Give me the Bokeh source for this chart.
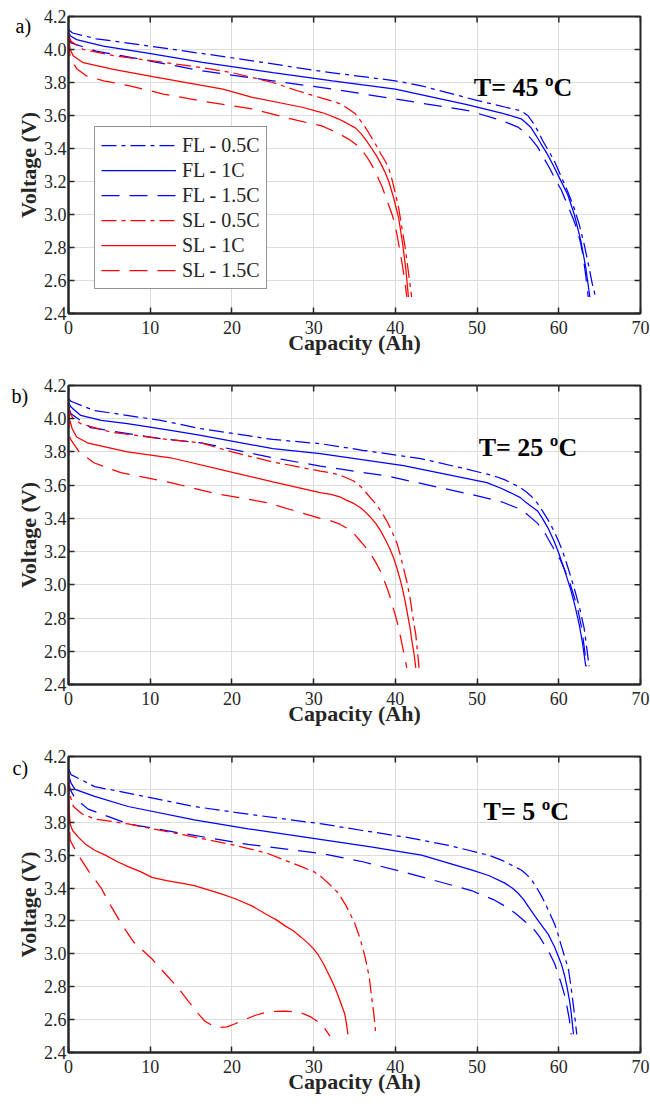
import math
from bokeh.plotting import figure
from bokeh.layouts import column
from bokeh.models import Legend, LegendItem, Label, Title, FixedTicker, NumeralTickFormatter, Range1d
from bokeh.embed import file_html
from bokeh.resources import INLINE

# ---------------- data ----------------
x_ticks = [0, 10, 20, 30, 40, 50, 60, 70]
y_ticks = [2.4, 2.6, 2.8, 3.0, 3.2, 3.4, 3.6, 3.8, 4.0, 4.2]
series_names = ["FL - 0.5C", "FL - 1C", "FL - 1.5C", "SL - 0.5C", "SL - 1C", "SL - 1.5C"]

# Panel a) T = 45 C
a_fl05_x = [0, 0.5, 3.4, 10, 20, 31, 40, 43.2, 49.7, 53.5, 55.4, 56.2, 56.8, 57.4, 58.0, 58.7, 59.4, 60.2, 61.0, 61.8, 62.5, 63.1, 63.7, 64.1, 64.5]
a_fl05_v = [4.12, 4.10, 4.065, 4.02, 3.95, 3.867, 3.81, 3.78, 3.695, 3.65, 3.628, 3.60, 3.56, 3.51, 3.45, 3.39, 3.33, 3.24, 3.15, 3.05, 2.94, 2.82, 2.68, 2.58, 2.50]
a_fl1_x = [0, 0.3, 1, 4.26, 9.5, 16.4, 25, 32.3, 40, 48.9, 53, 55.4, 56.0, 56.6, 57.2, 57.8, 58.6, 59.3, 60.2, 61.1, 61.9, 62.7, 63.3, 63.8]
a_fl1_v = [4.10, 4.08, 4.06, 4.02, 3.98, 3.922, 3.86, 3.81, 3.76, 3.665, 3.615, 3.58, 3.555, 3.527, 3.48, 3.43, 3.366, 3.30, 3.21, 3.12, 3.00, 2.84, 2.68, 2.50]
a_fl15_x = [0, 0.3, 3.4, 10, 16.4, 25, 32.3, 40, 48.9, 53, 55.0, 55.8, 56.6, 57.4, 58.2, 59.0, 59.7, 60.3, 60.8, 61.3, 61.8, 62.3, 62.7, 63.0, 63.3, 63.6]
a_fl15_v = [4.07, 4.04, 3.99, 3.93, 3.87, 3.81, 3.76, 3.70, 3.63, 3.57, 3.53, 3.50, 3.46, 3.41, 3.34, 3.27, 3.20, 3.15, 3.09, 3.03, 2.97, 2.90, 2.82, 2.74, 2.63, 2.50]
a_sl05_x = [0, 0.3, 1.8, 5.5, 16.4, 20, 25, 28, 31, 32.5, 33.5, 34.4, 35.1, 35.8, 36.5, 37.1, 37.7, 38.2, 38.8, 39.2, 39.6, 40.0, 40.4, 40.8, 41.2, 41.6, 42.0]
a_sl05_v = [4.09, 4.05, 4.00, 3.963, 3.89, 3.86, 3.80, 3.75, 3.705, 3.685, 3.665, 3.635, 3.61, 3.565, 3.515, 3.465, 3.415, 3.37, 3.32, 3.28, 3.21, 3.13, 3.04, 2.92, 2.80, 2.65, 2.50]
a_sl1_x = [0, 0.2, 0.6, 1.8, 5.5, 10.3, 18.9, 22.5, 28.6, 31, 32, 33, 34, 35.1, 35.8, 36.5, 37.1, 37.7, 38.2, 38.7, 39.2, 39.8, 40.4, 40.9, 41.3, 41.6]
a_sl1_v = [4.085, 4.0, 3.96, 3.92, 3.88, 3.835, 3.76, 3.71, 3.65, 3.618, 3.60, 3.58, 3.555, 3.525, 3.49, 3.445, 3.40, 3.355, 3.31, 3.26, 3.20, 3.10, 2.98, 2.82, 2.66, 2.50]
a_sl15_x = [0, 0.2, 1.0, 2.2, 4.3, 7.5, 11.6, 16, 22.5, 28, 31, 32, 33.1, 34.5, 35.3, 35.9, 36.5, 37, 37.5, 37.9, 38.4, 38.8, 39.2, 39.6, 40.0, 40.3, 40.6, 40.9, 41.2, 41.4]
a_sl15_v = [4.07, 3.945, 3.884, 3.84, 3.81, 3.78, 3.73, 3.69, 3.64, 3.57, 3.537, 3.515, 3.49, 3.45, 3.42, 3.39, 3.35, 3.31, 3.265, 3.22, 3.165, 3.11, 3.055, 3.00, 2.93, 2.85, 2.77, 2.68, 2.58, 2.50]

# Panel b) T = 25 C
b_fl05_x = [0, 0.3, 3.1, 11.3, 16.2, 25, 30.8, 36, 43.1, 48, 52, 53.5, 55.3, 56.0, 56.7, 57.4, 58.0, 58.7, 59.4, 60.0, 60.7, 61.4, 62.0, 62.6, 63.1, 63.4, 63.7]
b_fl05_v = [4.12, 4.105, 4.05, 3.99, 3.94, 3.875, 3.85, 3.81, 3.76, 3.705, 3.657, 3.63, 3.585, 3.56, 3.53, 3.49, 3.445, 3.39, 3.325, 3.26, 3.17, 3.06, 2.96, 2.85, 2.74, 2.63, 2.51]
b_fl1_x = [0, 0.3, 1.5, 4, 7.2, 12.5, 16.2, 25, 30.8, 41.0, 51.2, 53, 54.3, 55.3, 56.0, 56.7, 57.4, 58.0, 58.7, 59.4, 60.0, 60.7, 61.4, 62.0, 62.5, 62.9, 63.3]
b_fl1_v = [4.095, 4.07, 4.02, 3.99, 3.97, 3.93, 3.90, 3.82, 3.79, 3.717, 3.615, 3.58, 3.55, 3.525, 3.495, 3.47, 3.445, 3.40, 3.34, 3.265, 3.19, 3.09, 2.98, 2.87, 2.76, 2.65, 2.51]
b_fl15_x = [0, 0.3, 2.7, 11.3, 16.2, 25, 30.8, 39.0, 49.2, 53, 55.3, 56.0, 56.7, 57.4, 58.2, 59.0, 59.7, 60.2, 60.8, 61.3, 61.8, 62.3, 62.8, 63.1, 63.4]
b_fl15_v = [4.07, 4.03, 3.946, 3.88, 3.855, 3.765, 3.715, 3.655, 3.545, 3.50, 3.455, 3.43, 3.40, 3.37, 3.32, 3.25, 3.19, 3.15, 3.08, 3.02, 2.94, 2.86, 2.74, 2.63, 2.51]
b_sl05_x = [0, 0.2, 0.6, 1.5, 5.1, 11.3, 16.2, 20, 25, 30.8, 32.1, 33.5, 34.9, 35.8, 36.5, 37.2, 37.8, 38.4, 39.0, 39.5, 40.2, 40.6, 41.0, 41.4, 41.8, 42.1, 42.5, 42.7, 42.9]
b_sl05_v = [4.08, 4.03, 4.00, 3.97, 3.92, 3.88, 3.855, 3.80, 3.74, 3.685, 3.675, 3.655, 3.625, 3.59, 3.55, 3.51, 3.475, 3.43, 3.38, 3.33, 3.25, 3.18, 3.10, 3.02, 2.92, 2.82, 2.70, 2.60, 2.50]
b_sl1_x = [0, 0.1, 0.45, 1.0, 2.3, 7.2, 12.5, 20.2, 25, 30.8, 32.1, 33.2, 34, 34.9, 35.7, 36.4, 37, 37.6, 38.2, 38.8, 39.3, 39.8, 40.2, 40.6, 40.9, 41.2, 41.5, 41.8, 42.0, 42.3, 42.5]
b_sl1_v = [4.08, 4.0, 3.94, 3.89, 3.855, 3.80, 3.765, 3.675, 3.62, 3.555, 3.545, 3.53, 3.51, 3.49, 3.465, 3.435, 3.405, 3.37, 3.325, 3.27, 3.22, 3.16, 3.10, 3.03, 2.97, 2.90, 2.82, 2.74, 2.67, 2.58, 2.50]
b_sl15_x = [0, 0.1, 0.2, 1.3, 3.1, 6.4, 12.5, 18, 24.3, 30.8, 32.1, 33.2, 34.1, 34.9, 35.6, 36.3, 37.0, 37.6, 38.2, 38.6, 39.0, 39.4, 39.8, 40.1, 40.4, 40.7, 41.0, 41.2, 41.4]
b_sl15_v = [4.06, 3.95, 3.88, 3.80, 3.735, 3.675, 3.615, 3.55, 3.495, 3.40, 3.385, 3.365, 3.34, 3.31, 3.27, 3.23, 3.185, 3.135, 3.08, 3.03, 2.98, 2.92, 2.85, 2.80, 2.74, 2.67, 2.60, 2.55, 2.50]

# Panel c) T = 5 C
c_fl05_x = [0, 0.3, 3.2, 9.3, 15.4, 20.4, 31.0, 36, 41.2, 46.5, 51.4, 53, 54, 55.4, 56.0, 56.5, 57.0, 57.5, 58.0, 58.5, 59.0, 59.5, 59.9, 60.3, 60.8, 61.2, 61.5, 61.7, 62.0, 62.2]
c_fl05_v = [4.125, 4.09, 4.017, 3.957, 3.896, 3.86, 3.79, 3.75, 3.71, 3.66, 3.60, 3.57, 3.545, 3.51, 3.485, 3.46, 3.425, 3.385, 3.34, 3.29, 3.235, 3.18, 3.12, 3.05, 2.97, 2.90, 2.80, 2.72, 2.60, 2.51]
c_fl1_x = [0, 0.3, 0.8, 3.2, 7.3, 15.4, 22, 31.0, 37, 43.2, 49.3, 51.5, 53.4, 54.3, 55.0, 55.7, 56.3, 57.0, 57.5, 58.1, 58.7, 59.1, 59.5, 59.9, 60.3, 60.7, 61.0, 61.3, 61.5, 61.8]
c_fl1_v = [4.09, 4.04, 4.0, 3.957, 3.896, 3.815, 3.76, 3.695, 3.65, 3.60, 3.51, 3.475, 3.43, 3.40, 3.37, 3.33, 3.285, 3.235, 3.20, 3.16, 3.12, 3.08, 3.04, 2.99, 2.94, 2.87, 2.80, 2.72, 2.65, 2.51]
c_fl15_x = [0, 0.2, 0.8, 2.4, 7.3, 15.4, 22, 31.0, 36, 41.2, 49.3, 51, 52, 53.4, 54.6, 55.8, 57.1, 57.7, 58.3, 58.9, 59.5, 59.9, 60.3, 60.7, 61.0, 61.3, 61.5]
c_fl15_v = [4.06, 4.0, 3.945, 3.88, 3.79, 3.72, 3.665, 3.61, 3.56, 3.495, 3.385, 3.35, 3.33, 3.29, 3.25, 3.20, 3.14, 3.10, 3.05, 3.00, 2.94, 2.88, 2.82, 2.75, 2.68, 2.60, 2.51]
c_sl05_x = [0, 0.1, 0.6, 1.6, 3.2, 7.3, 15.4, 20.4, 24.4, 28.5, 30.0, 31.0, 32.0, 33.0, 34.0, 35.0, 35.7, 36.3, 36.8, 37.1, 37.4, 37.6]
c_sl05_v = [4.08, 3.98, 3.896, 3.853, 3.82, 3.79, 3.71, 3.66, 3.61, 3.53, 3.50, 3.465, 3.42, 3.37, 3.29, 3.19, 3.09, 2.98, 2.86, 2.735, 2.62, 2.51]
c_sl1_x = [0, 0.05, 0.2, 0.5, 1.2, 2.0, 3.2, 4.5, 6.0, 7.3, 8.8, 10.2, 12, 13.8, 15.4, 17, 18.7, 20.4, 22.5, 24.4, 25.5, 26.5, 27.5, 28.5, 29.3, 30, 30.6, 31.2, 31.7, 32.2, 32.6, 33.0, 33.4, 33.8, 34.0, 34.2]
c_sl1_v = [4.07, 3.90, 3.79, 3.75, 3.71, 3.67, 3.63, 3.60, 3.56, 3.53, 3.50, 3.465, 3.445, 3.43, 3.415, 3.39, 3.365, 3.335, 3.29, 3.235, 3.205, 3.17, 3.14, 3.10, 3.065, 3.03, 2.99, 2.94, 2.89, 2.84, 2.795, 2.745, 2.69, 2.636, 2.58, 2.51]
c_sl15_x = [0, 0.05, 0.2, 1.2, 2.5, 4.0, 5.2, 6.5, 8.0, 10.2, 12.0, 13.3, 14.7, 15.8, 16.7, 17.6, 18.5, 19.4, 20.4, 21.6, 22.8, 24.0, 25.3, 26.5, 27.7, 28.8, 29.7, 30.6, 31.3, 32.0]
c_sl15_v = [4.08, 3.85, 3.69, 3.60, 3.50, 3.40, 3.29, 3.18, 3.07, 2.97, 2.87, 2.80, 2.71, 2.64, 2.59, 2.565, 2.552, 2.556, 2.575, 2.60, 2.625, 2.642, 2.65, 2.652, 2.648, 2.635, 2.615, 2.585, 2.55, 2.50]

panels = [
    dict(tag="a)", temp="T= 45 ºC", tx=49.6, ty=3.772, tag_drop=20,
         data=[(a_fl05_x, a_fl05_v), (a_fl1_x, a_fl1_v), (a_fl15_x, a_fl15_v),
               (a_sl05_x, a_sl05_v), (a_sl1_x, a_sl1_v), (a_sl15_x, a_sl15_v)],
         height=357, top=16, bottom=44, left=64, legend=True),
    dict(tag="b)", temp="T= 25 ºC", tx=50.2, ty=3.826, tag_drop=21,
         data=[(b_fl05_x, b_fl05_v), (b_fl1_x, b_fl1_v), (b_fl15_x, b_fl15_v),
               (b_sl05_x, b_sl05_v), (b_sl1_x, b_sl1_v), (b_sl15_x, b_sl15_v)],
         height=371, top=28, bottom=44, left=68, legend=False),
    dict(tag="c)", temp="T= 5 ºC", tx=50.8, ty=3.865, tag_drop=22,
         data=[(c_fl05_x, c_fl05_v), (c_fl1_x, c_fl1_v), (c_fl15_x, c_fl15_v),
               (c_sl05_x, c_sl05_v), (c_sl1_x, c_sl1_v), (c_sl15_x, c_sl15_v)],
         height=376, top=28, bottom=52, left=67, legend=False),
]

colors = ["#0000ff", "#0000ff", "#0000ff", "#ff0000", "#ff0000", "#ff0000"]
dashes = ["15 5 4 5", "solid", "18 10", "15 5 4 5", "solid", "18 10"]

FONT = "Liberation Serif"
DARK = "#262626"

figs = []
for pan in panels:
    p = figure(width=650, height=pan["height"], x_range=Range1d(0, 70), y_range=Range1d(2.4, 4.2),
               output_backend="svg", toolbar_location=None,
               min_border_left=pan["left"], min_border_right=10,
               min_border_top=pan["top"], min_border_bottom=pan["bottom"])
    p.outline_line_color = DARK
    p.outline_line_width = 2
    p.background_fill_color = "white"
    p.border_fill_color = "white"

    p.xaxis.ticker = FixedTicker(ticks=x_ticks)
    p.yaxis.ticker = FixedTicker(ticks=y_ticks)
    p.yaxis.formatter = NumeralTickFormatter(format="0.0")
    for ax in (p.xaxis[0], p.yaxis[0]):
        ax.axis_line_color = DARK
        ax.axis_line_width = 2
        ax.major_tick_line_color = DARK
        ax.major_tick_line_width = 1.5
        ax.major_tick_in = 6
        ax.major_tick_out = 0
        ax.minor_tick_line_color = None
        ax.major_label_text_font = FONT
        ax.major_label_text_font_size = "18px"
        ax.major_label_text_color = DARK
        ax.axis_label_text_font = FONT
        ax.axis_label_text_font_style = "bold"
        ax.axis_label_text_font_size = "22px"
        ax.axis_label_text_color = DARK
    p.xaxis.axis_label = "Capacity (Ah)"
    p.yaxis.axis_label = "Voltage (V)"
    p.xaxis.major_label_standoff = 7
    p.xaxis.axis_label_standoff = -7
    p.yaxis.major_label_standoff = 2
    p.yaxis.axis_label_standoff = 0

    p.xgrid.grid_line_color = "#dcdcdc"
    p.ygrid.grid_line_color = "#dcdcdc"

    # mirrored inward tick marks on top and right edges (half of each dash is clipped)
    p.scatter(x=x_ticks, y=[4.2] * len(x_ticks), marker="dash", angle=math.pi / 2,
              size=12, line_color=DARK, line_width=1.5)
    p.scatter(x=[70] * len(y_ticks), y=y_ticks, marker="dash", angle=0,
              size=12, line_color=DARK, line_width=1.5)

    items = []
    for (xs, vs), name, col, dash in zip(pan["data"], series_names, colors, dashes):
        r = p.line(xs, vs, line_color=col, line_width=1.25, line_dash=dash)
        items.append(LegendItem(label=name, renderers=[r]))

    if pan["legend"]:
        leg = Legend(items=items, location=(26, 24))
        leg.label_text_font = FONT
        leg.label_text_font_size = "20px"
        leg.label_text_color = DARK
        leg.glyph_width = 75
        leg.glyph_height = 24
        leg.label_height = 24
        leg.label_standoff = 6
        leg.spacing = 1
        leg.padding = 6
        leg.margin = 0
        leg.border_line_color = DARK
        leg.border_line_width = 1
        leg.background_fill_alpha = 1
        p.add_layout(leg, "center")

    p.add_layout(Label(x=pan["tx"], y=pan["ty"], text=pan["temp"], text_font=FONT,
                       text_font_style="bold", text_font_size="26px", text_color="black",
                       text_baseline="middle", text_align="left"))
    # panel tag placed beside the top of the frame, in the left margin
    p.add_layout(Title(text=pan["tag"], align="left", vertical_align="bottom",
                       offset=11 - pan["left"], standoff=-2 * pan["tag_drop"],
                       text_font=FONT, text_font_size="20px", text_font_style="normal",
                       text_color="black"), "above")
    figs.append(p)

layout = column(*figs, spacing=0)
open("out.html", "w").write(file_html(layout, INLINE))
